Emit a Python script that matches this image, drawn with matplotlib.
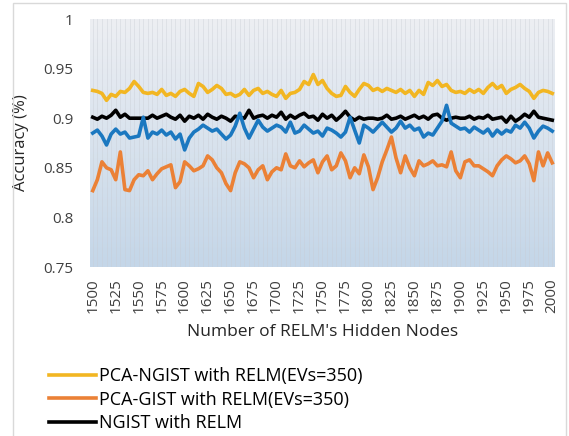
import numpy as np
import matplotlib
matplotlib.use("Agg")
import matplotlib.pyplot as plt
from matplotlib.patches import Rectangle

# hidden nodes 1500..2000, step 5
nodes = list(range(1500, 2001, 5))

pca_ngist = [0.928, 0.927, 0.925, 0.918, 0.924, 0.922, 0.927, 0.926, 0.930, 0.937,
             0.932, 0.926, 0.925, 0.926, 0.924, 0.929, 0.923, 0.925, 0.922, 0.927,
             0.929, 0.925, 0.922, 0.935, 0.932, 0.926, 0.929, 0.933, 0.930, 0.924,
             0.925, 0.922, 0.924, 0.929, 0.923, 0.928, 0.930, 0.925, 0.927, 0.924,
             0.922, 0.928, 0.920, 0.925, 0.926, 0.929, 0.937, 0.934, 0.944, 0.934,
             0.938, 0.930, 0.925, 0.922, 0.923, 0.932, 0.926, 0.922, 0.929, 0.935,
             0.933, 0.928, 0.930, 0.927, 0.930, 0.928, 0.926, 0.929, 0.925, 0.928,
             0.922, 0.928, 0.924, 0.936, 0.933, 0.938, 0.932, 0.934, 0.928, 0.926,
             0.927, 0.925, 0.929, 0.926, 0.929, 0.925, 0.931, 0.935, 0.930, 0.933,
             0.925, 0.929, 0.931, 0.934, 0.930, 0.927, 0.920, 0.926, 0.928, 0.927,
             0.925]

pca_gist = [0.827, 0.838, 0.856, 0.850, 0.848, 0.838, 0.866, 0.828, 0.827, 0.838,
            0.843, 0.842, 0.847, 0.838, 0.844, 0.849, 0.851, 0.853, 0.830, 0.836,
            0.856, 0.852, 0.847, 0.849, 0.852, 0.862, 0.858, 0.850, 0.845, 0.834,
            0.827, 0.845, 0.856, 0.854, 0.850, 0.840, 0.848, 0.852, 0.838, 0.846,
            0.850, 0.848, 0.864, 0.852, 0.850, 0.857, 0.851, 0.855, 0.858, 0.845,
            0.856, 0.862, 0.848, 0.852, 0.865, 0.857, 0.840, 0.850, 0.844, 0.863,
            0.851, 0.828, 0.840, 0.856, 0.868, 0.881, 0.860, 0.845, 0.862, 0.850,
            0.842, 0.857, 0.852, 0.854, 0.857, 0.852, 0.853, 0.851, 0.866, 0.847,
            0.840, 0.856, 0.858, 0.852, 0.852, 0.849, 0.846, 0.842, 0.852, 0.858,
            0.862, 0.859, 0.855, 0.857, 0.862, 0.854, 0.837, 0.866, 0.852, 0.865,
            0.855]

ngist = [0.901, 0.899, 0.902, 0.900, 0.903, 0.908, 0.901, 0.904, 0.900, 0.900,
         0.900, 0.900, 0.900, 0.903, 0.900, 0.902, 0.904, 0.901, 0.899, 0.903,
         0.897, 0.902, 0.900, 0.903, 0.899, 0.904, 0.901, 0.899, 0.902, 0.900,
         0.897, 0.902, 0.901, 0.900, 0.908, 0.900, 0.902, 0.903, 0.900, 0.903,
         0.901, 0.906, 0.899, 0.903, 0.900, 0.903, 0.905, 0.901, 0.902, 0.898,
         0.904, 0.900, 0.903, 0.898, 0.902, 0.907, 0.901, 0.898, 0.901, 0.899,
         0.900, 0.900, 0.899, 0.900, 0.903, 0.899, 0.900, 0.902, 0.899, 0.901,
         0.903, 0.900, 0.902, 0.899, 0.903, 0.904, 0.900, 0.898, 0.900, 0.901,
         0.900, 0.900, 0.902, 0.899, 0.901, 0.900, 0.903, 0.899, 0.900, 0.901,
         0.896, 0.902, 0.897, 0.900, 0.904, 0.901, 0.907, 0.901, 0.900, 0.899,
         0.898]

gist = [0.885, 0.888, 0.882, 0.873, 0.884, 0.889, 0.884, 0.886, 0.880, 0.881,
        0.882, 0.901, 0.880, 0.886, 0.884, 0.888, 0.883, 0.886, 0.879, 0.884,
        0.868, 0.880, 0.886, 0.889, 0.893, 0.890, 0.887, 0.889, 0.884, 0.879,
        0.883, 0.892, 0.905, 0.890, 0.880, 0.889, 0.898, 0.891, 0.887, 0.890,
        0.893, 0.891, 0.886, 0.896, 0.885, 0.887, 0.893, 0.889, 0.885, 0.887,
        0.882, 0.890, 0.888, 0.885, 0.881, 0.886, 0.901, 0.888, 0.875, 0.893,
        0.890, 0.886, 0.891, 0.896, 0.891, 0.886, 0.890, 0.897, 0.890, 0.893,
        0.888, 0.890, 0.881, 0.885, 0.883, 0.890, 0.897, 0.913, 0.895, 0.892,
        0.889, 0.890, 0.886, 0.891, 0.888, 0.885, 0.889, 0.882, 0.888, 0.884,
        0.888, 0.886, 0.893, 0.890, 0.896, 0.890, 0.880, 0.887, 0.892, 0.890,
        0.887]

xticks = list(range(1500, 2001, 25))
yticks = [0.75, 0.8, 0.85, 0.9, 0.95, 1.0]
ytick_labels = ["0.75", "0.8", "0.85", "0.9", "0.95", "1"]

plt.rcParams['font.family'] = ['Open Sans', 'DejaVu Sans']

fig = plt.figure(figsize=(5.69, 4.36), dpi=100)
# outer chart frame (bottom edge falls outside the picture)
fig.patches.append(Rectangle((13 / 569, -0.1), 553 / 569, 1.1 - 3 / 436,
                             transform=fig.transFigure, fill=False,
                             edgecolor='#d9d9d9', lw=1))
ax = fig.add_axes([90 / 569, 1 - 267 / 436, 465 / 569, 248 / 436])

# gradient plot background
grad = np.linspace(0, 1, 256).reshape(-1, 1)
top = np.array([237, 239, 243]) / 255
bot = np.array([196, 214, 232]) / 255
img = top + (bot - top) * grad[..., None]
ax.imshow(img, extent=[1497, 2003, 0.75, 1.0], aspect='auto', zorder=0)

for xv in nodes:
    ax.axvline(xv, color='#c8ccd4', lw=0.6, alpha=0.45, zorder=1)

ax.plot(nodes, pca_ngist, color='#F2B622', lw=2.6, label='PCA-NGIST with RELM(EVs=350)', zorder=3)
ax.plot(nodes, pca_gist, color='#EB8136', lw=2.6, label='PCA-GIST with RELM(EVs=350)', zorder=3)
ax.plot(nodes, ngist, color='black', lw=2.6, label='NGIST with RELM', zorder=3)
ax.plot(nodes, gist, color='#1B78C0', lw=2.6, zorder=4)

ax.set_xlim(1497, 2003)
ax.set_ylim(0.75, 1.0)
ax.set_xticks(xticks)
ax.set_xticklabels([str(t) for t in xticks], rotation=90, fontsize=11, color='#404040')
ax.set_yticks(yticks)
ax.set_yticklabels(ytick_labels, fontsize=11, color='#404040')
ax.tick_params(axis='x', length=0, pad=8)
ax.tick_params(axis='y', length=0, pad=12)
for s in ax.spines.values():
    s.set_visible(False)

ax.set_xlabel("Number of RELM's Hidden Nodes", fontsize=12.5, color='#262626', labelpad=8)
ax.set_ylabel("Accuracy (%)", fontsize=12, color='#262626', labelpad=10)

fig.legend(loc='upper left', bbox_to_anchor=(42 / 569, 1 - 360 / 436),
           frameon=False, fontsize=13, handlelength=2.6, handletextpad=0.15,
           labelspacing=0.3, borderaxespad=0)

fig.savefig('out.png', dpi=100)
